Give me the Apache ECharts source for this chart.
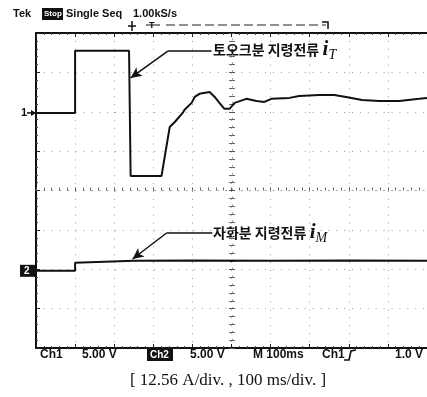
<!DOCTYPE html>
<html>
<head>
<meta charset="utf-8">
<script src="https://cdn.jsdelivr.net/npm/echarts@6/dist/echarts.min.js"></script>
<style>
  html, body { margin: 0; padding: 0; background: #fff; }
  #c { width: 427px; height: 397px; }
</style>
</head>
<body>
<div id="c"></div>
<script>
// Scope scale settings
const AMP_PER_DIV = 12.56;   // A/div
const MS_PER_DIV = 100;      // ms/div
const CH1_POS = 1.97;        // ch1 reference level (divisions above screen centre)
const CH2_POS = -2.04;       // ch2 reference level

// i_T : torque-component current command  (time in ms, current in A)
const iT_time = [0, 100, 100, 238, 242, 321, 342, 355, 375, 380, 398, 406, 418, 444, 457, 469, 482, 495, 508, 538, 564, 584, 602, 648, 673, 724, 763, 793, 834, 878, 929, 980, 1000];
const iT_amp  = [0, 0, 19.8, 19.8, -20.1, -20.1, -4.5, -2.9, 0, 1.0, 3.2, 5.1, 6.1, 6.7, 5.1, 3.2, 1.3, 1.3, 3.2, 4.5, 3.8, 3.5, 4.5, 4.8, 5.4, 5.7, 5.7, 5.1, 4.1, 3.8, 3.8, 4.5, 4.8];

// i_M : magnetising-component current command
const iM_time = [0, 100, 100, 104, 250, 400, 600, 800, 1000];
const iM_amp  = [0, 0, 2.6, 3.2, 3.2, 3.3, 3.2, 3.3, 3.2];

// Labels
const headerLabels = ['Tek', 'Stop', 'Single Seq', '1.00kS/s'];
const statusLabels = ['Ch1', '5.00 V', 'Ch2', '5.00 V', 'M 100ms', 'Ch1', '1.0 V'];
const captionText = '[ 12.56 A/div. , 100 ms/div. ]';
const nameT = '토오크분 지령전류';
const nameM = '자화분 지령전류';

const toDiv = (amps, pos) => amps.map(a => pos + a / AMP_PER_DIV);
const pairs = (t, v) => t.map((x, i) => [x, v[i]]);

const chart = echarts.init(document.getElementById('c'), null, { renderer: 'canvas' });

const dotted = { color: '#9a9a9a', width: 1, type: [1, 6.9] };
const borderLine = { show: true, onZero: false, lineStyle: { color: '#111', width: 2 } };
const ticksIn = { show: true, inside: true, length: 4, lineStyle: { color: '#222', width: 1 } };
const minorIn = { show: true, splitNumber: 5, length: 2, lineStyle: { color: '#444', width: 1 } };

function xAx(extra) {
  return Object.assign({
    type: 'value', min: 0, max: 10 * MS_PER_DIV, interval: MS_PER_DIV,
    axisLabel: { show: false }, splitLine: { show: false }
  }, extra);
}
function yAx(extra) {
  return Object.assign({
    type: 'value', min: -4, max: 4, interval: 1,
    axisLabel: { show: false }, splitLine: { show: false }
  }, extra);
}

const textBase = { fontFamily: 'Liberation Sans', fontWeight: 'bold', fill: '#111' };

function label(x, y, text, size, extra) {
  return { type: 'text', x: x, y: y, style: Object.assign({}, textBase, { text: text, fontSize: size, verticalAlign: 'middle' }, extra || {}), silent: true };
}

// Header row
const header = [
  label(13, 14, headerLabels[0], 11),
  { type: 'rect', shape: { x: 42, y: 8, width: 21, height: 12 }, style: { fill: '#111' } },
  label(44, 14, headerLabels[1], 8, { fill: '#fff' }),
  label(66, 14, headerLabels[2], 11),
  label(133, 14, headerLabels[3], 11),
  // record window bar
  { type: 'polyline', shape: { points: [[128, 26], [136, 26]] }, style: { stroke: '#111', lineWidth: 1.5 } },
  { type: 'polyline', shape: { points: [[132, 21], [132, 31]] }, style: { stroke: '#111', lineWidth: 1.5 } },
  label(149, 26, 'T', 9),
  { type: 'line', shape: { x1: 146, y1: 25, x2: 160, y2: 25 }, style: { stroke: '#111', lineWidth: 1 } },
  { type: 'line', shape: { x1: 166, y1: 25, x2: 326, y2: 25 }, style: { stroke: '#222', lineWidth: 1, lineDash: [9, 4] } },
  { type: 'polyline', shape: { points: [[322, 22], [328, 22], [328, 29]] }, style: { stroke: '#111', lineWidth: 1.5 } }
];

// Status row under the graticule
const statusY = 355;
const status = [
  label(40, statusY, statusLabels[0], 12),
  label(82, statusY, statusLabels[1], 12),
  { type: 'rect', shape: { x: 147, y: 349, width: 26, height: 12 }, style: { fill: '#111' } },
  label(150, statusY, statusLabels[2], 10, { fill: '#fff' }),
  label(190, statusY, statusLabels[3], 12),
  label(253, statusY, statusLabels[4], 12),
  label(322, statusY, statusLabels[5], 12),
  { type: 'polyline', shape: { points: [[344, 360], [349, 360], [351, 351], [356, 350]] }, style: { stroke: '#111', lineWidth: 1.6, fill: null } },
  label(395, statusY, statusLabels[6], 12),
  { type: 'text', x: 228, y: 381, style: { text: captionText, fontFamily: 'Liberation Serif', fontSize: 17, fill: '#111', align: 'center', verticalAlign: 'middle' }, silent: true }
];

// Rich text for the trace names
function nameRich(name, sub) {
  return {
    text: '{k|' + name + '} {i|i}{s|' + sub + '}',
    rich: {
      k: { fontFamily: 'Noto Sans CJK KR', fontWeight: 'bold', fontSize: 14, fill: '#111' },
      i: { fontFamily: 'Liberation Serif', fontStyle: 'italic', fontWeight: 'bold', fontSize: 21, fill: '#111' },
      s: { fontFamily: 'Liberation Serif', fontStyle: 'italic', fontSize: 14, fill: '#111', padding: [11, 0, 0, 0] }
    },
    verticalAlign: 'middle'
  };
}
const names = [
  { type: 'text', x: 213, y: 50, style: nameRich(nameT, 'T'), silent: true },
  { type: 'text', x: 213, y: 233, style: nameRich(nameM, 'M'), silent: true }
];

const leaderStyle = { color: '#111', width: 1.5, type: 'solid' };
function leader(bend, end, tip) {
  return {
    silent: true, animation: false,
    symbol: ['none', 'arrow'], symbolSize: [8, 11],
    label: { show: false },
    lineStyle: leaderStyle,
    data: [
      [{ coord: bend, symbol: 'none' }, { coord: end, symbol: 'none' }],
      [{ coord: bend, symbol: 'none' }, { coord: tip, symbol: 'arrow' }]
    ]
  };
}

chart.setOption({
  animation: false,
  backgroundColor: '#fff',
  grid: { left: 36, top: 33, width: 392, height: 315, show: false },
  xAxis: [
    xAx({ position: 'bottom', axisLine: borderLine, axisTick: ticksIn, minorTick: minorIn, splitLine: { show: true, lineStyle: dotted } }),
    xAx({ position: 'top', axisLine: borderLine, axisTick: ticksIn, minorTick: minorIn }),
    // centre horizontal crosshair
    xAx({ position: 'bottom', offset: -157.5, axisLine: { show: true, onZero: false, lineStyle: dotted },
          axisTick: { show: true, inside: true, length: 3, lineStyle: { color: '#555' } },
          minorTick: { show: true, splitNumber: 5, length: 3, lineStyle: { color: '#666' } } })
  ],
  yAxis: [
    yAx({ position: 'left', axisLine: borderLine, axisTick: ticksIn, minorTick: minorIn, splitLine: { show: true, lineStyle: dotted } }),
    // centre vertical crosshair
    yAx({ position: 'left', offset: -196, axisLine: { show: true, onZero: false, lineStyle: dotted },
          axisTick: { show: true, inside: true, length: 3, lineStyle: { color: '#555' } },
          minorTick: { show: true, splitNumber: 5, length: 3, lineStyle: { color: '#666' } } }),
    yAx({ position: 'left', offset: -196, axisLine: { show: false },
          axisTick: { show: true, inside: false, length: 3, lineStyle: { color: '#555' } },
          minorTick: { show: true, splitNumber: 5, length: 3, lineStyle: { color: '#666' } } })
  ],
  series: [
    {
      name: 'iT', type: 'line', xAxisIndex: 0, yAxisIndex: 0,
      data: pairs(iT_time, toDiv(iT_amp, CH1_POS)),
      showSymbol: false, smooth: false,
      lineStyle: { color: '#111', width: 2 },
      markLine: leader([337, 3.54], [449, 3.54], [242, 2.86])
    },
    {
      name: 'iM', type: 'line', xAxisIndex: 0, yAxisIndex: 0,
      data: pairs(iM_time, toDiv(iM_amp, CH2_POS)),
      showSymbol: false, smooth: false,
      lineStyle: { color: '#111', width: 2 },
      markLine: leader([334, -1.08], [451, -1.08], [247, -1.74])
    }
  ],
  graphic: header.concat(status, names)
});

// Channel reference markers on the left edge
const p1 = chart.convertToPixel({ xAxisIndex: 0, yAxisIndex: 0 }, [0, CH1_POS]);
const p2 = chart.convertToPixel({ xAxisIndex: 0, yAxisIndex: 0 }, [0, CH2_POS]);
chart.setOption({
  graphic: header.concat(status, names, [
    label(21, p1[1], '1', 11),
    { type: 'line', shape: { x1: 27, y1: p1[1], x2: 35, y2: p1[1] }, style: { stroke: '#111', lineWidth: 1.5 } },
    { type: 'polygon', shape: { points: [[36, p1[1]], [31, p1[1] - 3], [31, p1[1] + 3]] }, style: { fill: '#111' } },
    { type: 'rect', shape: { x: 20, y: p2[1] - 6, width: 16, height: 12 }, style: { fill: '#111' } },
    label(24, p2[1], '2', 10, { fill: '#fff' })
  ])
});
</script>
</body>
</html>
